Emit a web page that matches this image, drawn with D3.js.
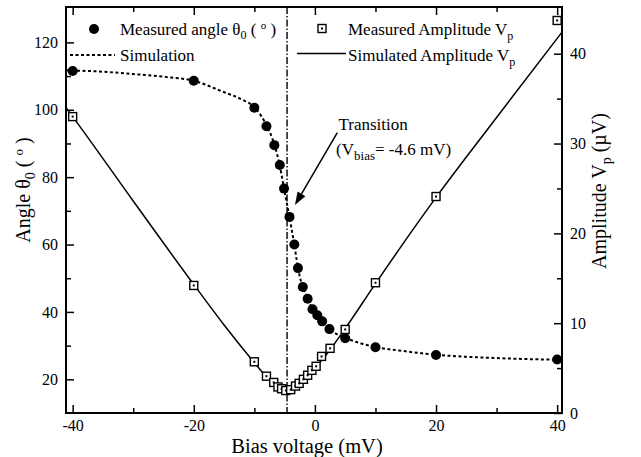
<!DOCTYPE html>
<html>
<head>
<meta charset="utf-8">
<script src="https://cdn.jsdelivr.net/npm/d3@7"></script>
<style>
    body { margin: 0; background: #fff; }
    text { font-family: "Liberation Serif", "Times New Roman", serif; fill: #000; }
</style>
</head>
<body>
<div id="chart"></div>
<script>
// measured angle theta_0 (left axis)
const angleBias = [-40, -20, -10, -8, -6.7, -5.8, -5.1, -4.2, -3.4, -2.8, -2.0, -1.2, -0.4, 0.4, 1.2, 2.4, 5, 10, 20, 40];
const angleValues = [111.5, 108.6, 100.6, 95.1, 89.5, 83.6, 76.6, 68.2, 60.0, 53.0, 47.4, 43.9, 40.8, 39.0, 37.2, 34.9, 32.2, 29.5, 27.2, 25.9];

// simulated angle (dotted)
const simAngleBias = [-41.1, -35, -30, -25, -20, -15, -12, -10, -8, -7, -6, -5.5, -5, -4.6, -4.2, -3.8, -3.4, -3, -2.5, -2, -1.5, -1, 0, 1, 2, 3, 5, 7, 10, 15, 20, 30, 40];
const simAngleValues = [111.7, 111.3, 110.6, 109.8, 108.6, 105.2, 103.0, 100.8, 95.4, 91.3, 85.0, 80.6, 75.7, 72.0, 68.2, 64.1, 60.0, 55.3, 50.5, 47.4, 45.1, 43.0, 39.9, 37.4, 35.5, 34.1, 32.3, 31.0, 29.6, 28.3, 27.3, 26.3, 25.8];

// measured amplitude V_p (right axis)
const ampBias = [-40, -20, -10, -8, -6.8, -6.1, -5.5, -4.8, -4.0, -3.2, -2.6, -1.9, -1.2, -0.5, 0.2, 1.1, 2.5, 5, 10, 20, 40];
const ampValues = [33.0, 14.2, 5.7, 4.1, 3.4, 2.9, 2.7, 2.5, 2.6, 3.0, 3.3, 3.75, 4.2, 4.75, 5.2, 6.3, 7.2, 9.3, 14.5, 24.1, 43.7];

// simulated amplitude (solid)
const simAmpBias = [-41.1, -40, -30, -20, -15, -10, -8, -7, -6, -5.5, -5, -4.6, -4, -3.5, -3, -2, -1, 0, 1, 2, 3, 5, 10, 20, 30, 40.8];
const simAmpValues = [34.0, 33.0, 23.6, 14.3, 9.8, 5.6, 4.0, 3.3, 2.85, 2.65, 2.55, 2.5, 2.6, 2.75, 3.0, 3.6, 4.3, 5.0, 5.8, 6.6, 7.5, 9.4, 14.4, 24.0, 32.9, 42.4];

const xTicks = [-40, -20, 0, 20, 40];
const xMinorTicks = [-30, -10, 10, 30];
const angleTicks = [20, 40, 60, 80, 100, 120];
const angleMinorTicks = [30, 50, 70, 90, 110];
const ampTicks = [0, 10, 20, 30, 40];
const ampMinorTicks = [5, 15, 25, 35];

const transitionBias = -4.6;

function biasChart() {
    let margin = {top: 7, left: 66, right: 79, bottom: 44},
        width = 641,
        height = 457;

    function chart(selector) {
        let svg = d3.select(selector)
            .append('svg')
            .attr('width', width)
            .attr('height', height);

        let x = d3.scaleLinear()
            .domain([-41.1, 40.8])
            .range([margin.left, width - margin.right]);

        let yAngle = d3.scaleLinear()
            .domain([10, 130.5])
            .range([height - margin.bottom, margin.top]);

        let yAmp = d3.scaleLinear()
            .domain([0, 45.2])
            .range([height - margin.bottom, margin.top]);

        let angleData = angleBias.map((b, i) => ({bias: b, value: angleValues[i]}));
        let simAngle = simAngleBias.map((b, i) => ({bias: b, value: simAngleValues[i]}));
        let ampData = ampBias.map((b, i) => ({bias: b, value: ampValues[i]}));
        let simAmp = simAmpBias.map((b, i) => ({bias: b, value: simAmpValues[i]}));

        // transition marker
        svg.append('line')
            .attr('x1', x(transitionBias)).attr('x2', x(transitionBias))
            .attr('y1', margin.top).attr('y2', height - margin.bottom)
            .attr('stroke', '#000')
            .attr('stroke-width', 1.4)
            .attr('stroke-dasharray', '7,2,1.5,2');

        // simulated amplitude
        svg.append('path')
            .datum(simAmp)
            .attr('fill', 'none')
            .attr('stroke', '#000')
            .attr('stroke-width', 1.5)
            .attr('d', d3.line().x(d => x(d.bias)).y(d => yAmp(d.value)).curve(d3.curveMonotoneX));

        // simulated angle
        svg.append('path')
            .datum(simAngle)
            .attr('fill', 'none')
            .attr('stroke', '#000')
            .attr('stroke-width', 2)
            .attr('stroke-dasharray', '3,2.5')
            .attr('d', d3.line().x(d => x(d.bias)).y(d => yAngle(d.value)).curve(d3.curveMonotoneX));

        // measured amplitude squares
        let sq = svg.selectAll('.amp')
            .data(ampData).enter()
            .append('g')
            .attr('class', 'amp')
            .attr('transform', d => `translate(${x(d.bias)},${yAmp(d.value)})`);
        sq.append('rect')
            .attr('x', -4).attr('y', -4).attr('width', 8).attr('height', 8)
            .attr('fill', '#fff').attr('stroke', '#000').attr('stroke-width', 1.4);
        sq.append('rect')
            .attr('x', -1).attr('y', -1).attr('width', 2).attr('height', 2)
            .attr('fill', '#000');

        // measured angle circles
        svg.selectAll('.angle')
            .data(angleData).enter()
            .append('circle')
            .attr('class', 'angle')
            .attr('cx', d => x(d.bias))
            .attr('cy', d => yAngle(d.value))
            .attr('r', 5)
            .attr('fill', '#000');

        // frame
        svg.append('rect')
            .attr('x', margin.left).attr('y', margin.top)
            .attr('width', width - margin.left - margin.right)
            .attr('height', height - margin.top - margin.bottom)
            .attr('fill', 'none').attr('stroke', '#000').attr('stroke-width', 2);

        //Draw Axes
        function styleAxis(g) {
            g.attr('font-size', 16).attr('font-family', null);
            g.select('.domain').remove();
            g.selectAll('.tick line').attr('stroke-width', 1.5);
        }

        svg.append('g')
            .attr('transform', `translate(0,${height - margin.bottom})`)
            .call(d3.axisBottom(x).tickValues(xTicks).tickSize(-8).tickPadding(7).tickFormat(d => String(d)))
            .call(styleAxis);
        svg.append('g')
            .attr('transform', `translate(0,${height - margin.bottom})`)
            .call(d3.axisBottom(x).tickValues(xMinorTicks).tickSize(-5).tickFormat(''))
            .call(styleAxis);
        svg.append('g')
            .attr('transform', `translate(0,${margin.top})`)
            .call(d3.axisTop(x).tickValues(xTicks).tickSize(-8).tickFormat(''))
            .call(styleAxis);
        svg.append('g')
            .attr('transform', `translate(0,${margin.top})`)
            .call(d3.axisTop(x).tickValues(xMinorTicks).tickSize(-5).tickFormat(''))
            .call(styleAxis);

        svg.append('g')
            .attr('transform', `translate(${margin.left},0)`)
            .call(d3.axisLeft(yAngle).tickValues(angleTicks).tickSize(-8).tickPadding(8))
            .call(styleAxis);
        svg.append('g')
            .attr('transform', `translate(${margin.left},0)`)
            .call(d3.axisLeft(yAngle).tickValues(angleMinorTicks).tickSize(-5).tickFormat(''))
            .call(styleAxis);

        svg.append('g')
            .attr('transform', `translate(${width - margin.right},0)`)
            .call(d3.axisRight(yAmp).tickValues(ampTicks).tickSize(-8).tickPadding(8))
            .call(styleAxis);
        svg.append('g')
            .attr('transform', `translate(${width - margin.right},0)`)
            .call(d3.axisRight(yAmp).tickValues(ampMinorTicks).tickSize(-5).tickFormat(''))
            .call(styleAxis);

        // axis titles
        svg.append('text')
            .attr('x', 307).attr('y', 453)
            .attr('text-anchor', 'middle')
            .attr('font-size', 20.5)
            .text('Bias voltage (mV)');

        let yl = svg.append('text')
            .attr('transform', 'translate(30,190) rotate(-90)')
            .attr('text-anchor', 'middle')
            .attr('font-size', 20);
        yl.append('tspan').text('Angle θ');
        yl.append('tspan').attr('dy', 5).attr('font-size', 14).text('0');
        yl.append('tspan').attr('dy', -5).text(' ( ');
        yl.append('tspan').attr('dy', -7).attr('font-size', 13).text('o');
        yl.append('tspan').attr('dy', 7).text(' )');

        let yr = svg.append('text')
            .attr('transform', 'translate(606,191) rotate(-90)')
            .attr('text-anchor', 'middle')
            .attr('font-size', 20);
        yr.append('tspan').text('Amplitude V');
        yr.append('tspan').attr('dy', 5).attr('font-size', 14).text('p');
        yr.append('tspan').attr('dy', -5).text(' (µV)');

        // legend, left
        svg.append('circle').attr('cx', 94).attr('cy', 29).attr('r', 5).attr('fill', '#000');
        let l1 = svg.append('text').attr('x', 120).attr('y', 35).attr('font-size', 17);
        l1.append('tspan').text('Measured angle θ');
        l1.append('tspan').attr('dy', 4).attr('font-size', 12).text('0');
        l1.append('tspan').attr('dy', -4).text(' ( ');
        l1.append('tspan').attr('dy', -6).attr('font-size', 11).text('o');
        l1.append('tspan').attr('dy', 6).text(' )');

        svg.append('line')
            .attr('x1', 70).attr('x2', 115).attr('y1', 55).attr('y2', 55)
            .attr('stroke', '#000').attr('stroke-width', 2).attr('stroke-dasharray', '3,2.5');
        svg.append('text').attr('x', 120).attr('y', 61).attr('font-size', 17).text('Simulation');

        // legend, right
        let lsq = svg.append('g').attr('transform', 'translate(322,28.5)');
        lsq.append('rect').attr('x', -4).attr('y', -4).attr('width', 8).attr('height', 8)
            .attr('fill', '#fff').attr('stroke', '#000').attr('stroke-width', 1.4);
        lsq.append('rect').attr('x', -1).attr('y', -1).attr('width', 2).attr('height', 2).attr('fill', '#000');
        let l3 = svg.append('text').attr('x', 348).attr('y', 35).attr('font-size', 17);
        l3.append('tspan').text('Measured Amplitude V');
        l3.append('tspan').attr('dy', 5).attr('font-size', 12).text('p');

        svg.append('line')
            .attr('x1', 297).attr('x2', 346).attr('y1', 53.5).attr('y2', 53.5)
            .attr('stroke', '#000').attr('stroke-width', 1.5);
        let l4 = svg.append('text').attr('x', 348).attr('y', 61).attr('font-size', 17);
        l4.append('tspan').text('Simulated Amplitude V');
        l4.append('tspan').attr('dy', 5).attr('font-size', 12).text('p');

        // transition annotation
        svg.append('text')
            .attr('x', x(3.9)).attr('y', yAngle(93.9))
            .attr('font-size', 17)
            .text('Transition');
        let tv = svg.append('text')
            .attr('x', x(3.5)).attr('y', yAngle(86.5))
            .attr('font-size', 17);
        tv.append('tspan').text('(V');
        tv.append('tspan').attr('dy', 5).attr('font-size', 13).text('bias');
        tv.append('tspan').attr('dy', -5).text('= -4.6 mV)');

        let tail = [x(3.7), yAngle(93.2)],
            tip = [x(-3.3), yAngle(71.7)],
            ang = Math.atan2(tip[1] - tail[1], tip[0] - tail[0]),
            headLen = 13,
            headW = 4.5;
        let base = [tip[0] - headLen * Math.cos(ang), tip[1] - headLen * Math.sin(ang)];
        svg.append('line')
            .attr('x1', tail[0]).attr('y1', tail[1])
            .attr('x2', base[0]).attr('y2', base[1])
            .attr('stroke', '#000').attr('stroke-width', 1.5);
        svg.append('path')
            .attr('d', d3.line()([
                tip,
                [base[0] + headW * Math.sin(ang), base[1] - headW * Math.cos(ang)],
                [base[0] - headW * Math.sin(ang), base[1] + headW * Math.cos(ang)]
            ]) + 'Z')
            .attr('fill', '#000');

        return chart;
    }

    return chart;
}

biasChart()('#chart');
</script>
</body>
</html>
